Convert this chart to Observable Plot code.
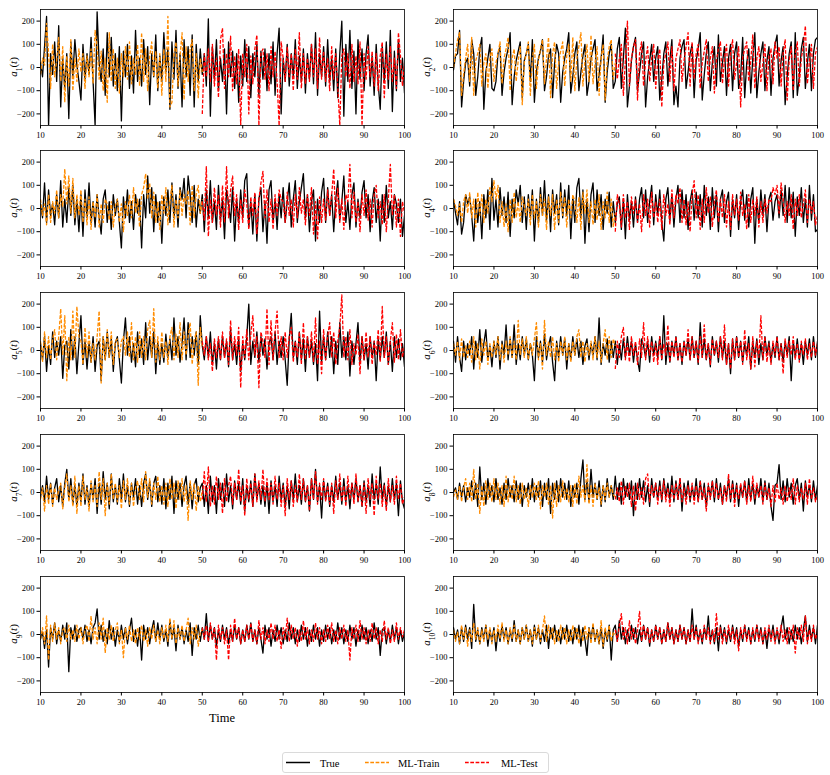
<!DOCTYPE html>
<html><head><meta charset="utf-8">
<script src="https://cdn.jsdelivr.net/npm/d3@7"></script>
<script src="https://cdn.jsdelivr.net/npm/@observablehq/plot@0.6"></script>
<style>
body{margin:0;background:#fff;}
#root{position:relative;width:830px;height:775px;font-family:"Liberation Serif",serif;overflow:hidden;}
.panel{position:absolute;}
#timeLabel{position:absolute;left:172px;width:100px;top:711px;text-align:center;font-size:12.5px;}
</style></head><body><div id="root"></div>
<script>
const step = 0.5;
const trainStart = 10, testStart = 50;
const xTicks = [10,20,30,40,50,60,70,80,90,100];
const yTicks = [-200,-100,0,100,200];
const seriesNames = ["True","ML-Train","ML-Test"];
const seriesColors = ["#000000","#ff8c00","#ff0000"];

// ---- a1 ----
const true1 = [20,-40,90,220,-250,60,-30,110,-60,180, -170,40,-90,60,-220,110,-40,120,10,-60, -140,100,-50,60,-30,130,-60,-250,240,20, -60,80,-120,150,-40,130,-80,60,-100,90, -230,70,-40,100,-90,50,-110,160,-60,40, -80,120,-30,90,-160,60,-40,140,-100,50, -60,150,-20,80,-180,110,-50,160,-90,60, -170,120,-40,90,-120,140,-170,100,-60,80, -30,60,-80,210,-210,90,-50,120,-100,40, -60,80,-200,110,-40,70,-90,60,-150,50, -80,120,-60,90,-130,60,-40,100,-120,70, -50,80,-100,60,-70,110,-120,60,170,-200, 40,-60,100,-80,60,-40,120,-90,50,-60, 80,-110,60,-50,100,-70,150,-120,60,-40, 90,-80,120,-60,40,-100,80,-130,60,200, -210,100,-60,160,-90,70,-200,120,-50,80, -100,60,140,-80,50,-120,100,-70,-180,90, -60,110,-90,160,-190,70,-100,120,-60,40, -110];
const train1 = [-30,40,10,190,60,-90,100,-40,30,130, -60,90,-150,50,-80,120,-100,40,-60,80, -20,60,-90,50,-40,80,-70,160,90,-50, 70,-100,40,-150,150,-60,80,-90,40,-110, 60,-40,90,-50,110,-70,40,-30,100,-80, 150,-60,80,-100,50,110,-40,70,-90,60, -120,80,-60,220,-170,-150,60,110,-80,50, 150,-140,90,-60,80,120,-100,60,-130,40, -20];
const test1 = [-200,60,-40,80,-60,100,-80,40,-130,120, 170,-90,60,-40,135,-100,50,-70,80,-250, 60,-40,100,-200,50,-70,80,140,-250,60, 80,-50,60,-100,90,-40,70,-60,-250,110, 40,-60,90,-40,60,-100,80,-50,150,-90, 60,-70,40,-60,100,-40,80,-90,130,-50, 70,-60,40,-100,90,-50,60,-80,-250,50, 80,-40,60,-90,100,-60,50,-70,110,-250, 60,-50,90,-40,70,-80,60,-100,50,110, -130,60,-50,90,-60,40,-90,150,50,-80, 20];

// ---- a2 ----
const true2 = [-10,50,60,160,-170,-60,20,40,-80,120, 60,-120,-40,80,130,-180,-20,40,100,-90, -100,-60,60,90,-120,-20,40,80,150,-160, -40,30,70,110,-130,30,60,100,-60,120, -150,-20,40,70,120,-100,-40,50,80,-130, 20,100,60,-150,-20,40,80,150,-110,-40, 60,110,-100,-20,50,100,-120,-60,40,80, 120,-100,-30,40,140,-150,-20,60,100,-90, -60,80,130,-90,40,170,-170,-80,30,90, 130,-100,-20,60,110,-170,-40,30,100,-60, 40,90,-140,-50,60,110,-80,30,120,-160, -80,-170,40,90,120,-90,-20,60,100,-130, 30,80,150,-140,-30,60,110,-100,20,90, -80,140,-60,20,90,-120,40,100,-100,60, 110,-90,-40,130,-130,20,80,-110,40,150, -130,-20,60,110,-100,30,90,-120,40,100, 140,-80,30,90,-160,-40,60,110,-130,150, -120,-40,80,130,-90,20,100,-100,60,120, 130];
const train2 = [0,60,120,150,-120,-30,40,100,-60,130, -120,30,60,100,-80,20,60,-90,40,80, -60,20,60,110,-70,40,80,130,-100,40, 80,-60,30,90,-160,20,60,110,-120,40, 100,-90,30,80,120,-70,40,130,-130,60, 110,-90,20,70,110,-80,50,100,-60,130, -100,40,90,150,-80,30,100,-60,140,-70, 20,90,-120,40,100,-140,30,90,120,-50, 20];
const test2 = [60,-50,40,100,-120,30,200,-80,40,90, 120,-140,60,110,-80,30,90,-60,40,100, -90,30,80,-170,20,60,110,-60,90,-100, 40,80,120,-60,30,90,150,-80,110,-50, 60,100,-90,20,70,120,-60,40,90,-110, 30,80,110,-70,40,100,-80,60,120,-50, 20,90,-170,40,80,110,-60,30,140,-90, 40,90,-60,20,100,-100,50,80,-70,110, 40,90,-80,60,120,-140,30,90,-100,60, 110,-80,40,90,180,-70,30,100,-90,60, 90];

// ---- a3 ----
const true3 = [20,-40,110,-60,80,-30,20,-70,60,-40, 120,-80,40,-60,90,-30,100,-70,40,-100, 60,-120,80,-40,110,-60,30,-80,60,-40, -110,40,80,-60,30,-90,60,-30,40,-60, -170,50,-40,80,-60,30,-90,60,-20,40, -170,60,-40,140,-20,90,-100,60,-60,30, -150,50,-30,80,-60,110,-40,60,-80,90, 40,130,-40,140,60,-60,100,-80,40,-20, 60,-100,80,-40,120,-60,30,-90,100,-50, 40,-130,80,20,-60,90,-140,40,-60,80, -40,120,150,-80,30,-110,60,-140,40,90, -100,30,-150,80,120,-60,40,-90,60,-40, 90,-60,30,110,-80,40,120,-60,30,90, 150,-40,60,-100,30,80,-140,40,-60,70, 130,-60,90,-30,60,-100,40,120,-50,30, 140,-60,30,-90,60,110,-80,40,-40,70, 120,-40,60,-100,30,90,-60,40,-140,60, -60,100,-40,30,-90,60,20,-60,40,-120, -30];
const train3 = [40,-30,20,-70,60,-60,30,-20,80,-40, 60,10,170,20,140,-20,130,-40,60,-30, 80,-60,40,-70,50,-90,30,-40,60,-80, 20,-60,40,20,-50,30,-80,10,40,-60, 20,-100,30,-30,60,-40,90,-20,40,-80, 60,90,150,40,110,-40,70,-60,30,-90, 60,-20,90,-70,30,100,-80,40,-40,80, -30,60,20,80,-70,100,-40,60,100,-20, 40];
const test3 = [30,-50,180,-120,40,-60,90,-30,60,-80, 100,-60,180,-40,80,140,-30,60,-90,40, -60,80,20,-90,50,-30,70,-110,40,110, 160,-40,80,-60,40,-90,60,-30,80,40, 30,-60,70,-30,40,-80,60,-40,90,-20, 40,-70,60,-30,90,-110,30,-130,50,-60, 40,-50,80,-30,60,170,-40,90,-60,40, -90,60,30,190,-40,70,-60,30,-100,60, -30,80,-50,40,-80,60,100,-40,30,-70, 60,-100,40,190,-30,60,-80,40,-120,30, -20];

// ---- a4 ----
const true4 = [40,-20,-70,30,-110,-60,60,20,50,-30, -140,40,-60,30,-130,60,-40,80,-90,130, -50,40,-80,90,-30,50,-60,70,-120,40, -40,80,20,100,-60,50,-90,60,-40,80, -140,40,-60,90,-30,120,-50,60,-100,80, -20,60,-70,110,-40,80,-30,100,-130,50, -60,90,130,-40,80,-150,40,-100,60,110, -60,80,-30,60,-90,40,-20,70,-80,30, -60,20,50,-90,40,-130,60,-50,30,-80, 50,-60,40,90,-40,80,-60,30,100,-70, 60,-30,80,-60,-140,40,90,-50,60,-80, 40,100,-60,80,-40,60,-90,30,80,-50, 70,-40,60,-80,100,-30,50,-90,90,-40, 60,-100,40,80,-60,30,70,-120,40,-40, 60,-90,30,80,-50,60,-80,40,90,-150, 40,-60,80,-30,60,-100,40,70,-50,30, 60,-40,80,-30,100,-60,90,-40,70,-120, 50,-30,90,-60,40,-80,100,-50,60,-100, -90];
const train4 = [40,10,-30,20,-60,30,60,-20,70,-40, 40,-80,70,-30,60,-60,40,-20,90,30, 120,40,100,-60,30,-80,20,-100,40,-60, 70,-40,30,-60,50,10,-30,40,-70,60, -40,30,-80,60,-30,40,-90,50,-30,60, -90,40,-60,70,-30,50,-80,40,-40,60, 30,-60,50,-90,70,-20,80,-60,30,-70, 40,-50,60,-90,30,-40,70,-60,40,-80, -20];
const test4 = [-100,60,20,-80,60,-40,30,-90,50,-20, 40,-60,20,-100,60,-30,40,-80,70,-40, 30,-60,40,-90,60,-30,20,-70,80,-40, 60,20,90,-60,40,-70,30,-100,60,120, -40,60,-90,40,-60,90,-20,50,-80,30, 80,-60,40,-40,60,-80,30,-90,60,-30, 40,-50,70,-30,20,-90,60,-60,40,-30, 50,-80,30,-60,40,-20,40,30,90,60, 100,-20,110,40,-60,30,-30,60,-90,40, -30,60,-40,20,80,-60,40,-20,30,-70, -30];

// ---- a5 ----
const true5 = [30,-40,60,-90,20,-60,80,-30,40,-20, 60,-120,20,40,-80,90,-40,60,-100,30, 150,-60,40,-80,30,-50,60,-90,20,40, -130,60,-40,80,-30,50,-90,30,60,-40, -140,40,140,-20,60,-50,30,-70,80,-30, 50,-60,120,-40,60,-30,80,-100,40,-60, 30,-50,70,-30,50,-40,140,-20,60,-50, 30,140,-40,120,-30,60,-20,80,-60,150, 20,-40,60,-30,80,-60,30,-80,50,-40, 60,-30,40,-70,90,-40,30,-60,50,-90, 30,-40,60,200,-60,40,-30,80,-50,60, -20,50,-80,30,60,-40,80,-60,40,-30, 60,-40,-150,50,160,-30,40,-60,80,-40, 50,-90,60,-30,40,-60,30,-130,170,-50, 60,-40,80,-30,60,-100,40,-60,120,-30, 60,-40,80,-110,40,-60,30,120,-50,60, -40,30,-80,60,-30,40,-130,50,-40,60, -30,80,-60,40,-90,60,-30,50,-40,30, -70];
const train5 = [40,-50,80,-30,60,-40,50,90,-40,60, 180,-20,150,-130,60,-40,170,-30,190,60, 40,-60,100,-30,80,-50,30,-40,60,170, -140,60,-40,90,-30,80,-60,40,50,-30, 40,60,-20,80,-30,120,-40,60,-50,80, -30,60,-40,90,130,-30,180,-50,60,-40, 80,-30,40,-60,60,100,-40,70,-30,120, -40,80,-20,60,120,-60,40,80,-150,100, 20];
const test5 = [40,-20,60,-40,30,-90,50,-30,60,-40, 80,-30,50,-60,130,-40,60,-20,100,-160, 60,-30,90,-40,70,150,-20,60,-160,80, 40,-30,180,-60,130,-40,80,170,-30,60, -40,80,-30,60,100,-50,40,-30,80,-60, 120,-40,60,-30,80,-50,140,-60,40,-100, 90,-40,60,120,-30,80,-60,40,100,240, -30,60,-40,90,-60,30,-20,70,-100,60, -40,80,-30,60,-60,40,-20,90,-50,190, -30,60,-60,40,120,-50,70,-40,90,-30, 20];

// ---- a6 ----
const true6 = [40,-50,60,-30,-90,40,-40,30,-20,60, -80,40,-30,90,-50,30,90,-40,20,-70, 40,-30,60,-80,40,-20,110,-40,50,-30, 110,-60,30,-40,60,-20,50,-40,30,-20, -130,60,-30,40,-50,70,-40,20,60,-50, -130,40,-30,60,-20,50,-80,30,-40,60, -20,50,-30,40,-60,20,50,-40,30,-20, 60,-40,140,-60,30,-20,50,-50,40,-30, 40,-60,30,-40,50,-30,60,-20,40,-50, 30,-40,-90,50,20,-30,40,-50,60,-20, 40,-30,60,-40,150,-60,30,-50,40,-20, 60,-40,30,-60,40,-20,50,-40,60,-30, 40,-60,120,-30,50,-40,30,-70,60,-20, 40,-50,60,-30,40,-60,30,-100,50,-40, 60,-30,40,-50,30,-20,60,-80,40,-30, 50,-60,30,-40,60,-20,40,-50,30,-30, 60,-40,30,-50,40,-20,60,-130,40,-30, 50,-40,30,-60,40,-20,50,-40,60,-30, 40];
const train6 = [30,-20,40,-40,50,-30,20,-30,40,-50, 60,-40,30,-80,50,-20,40,-60,30,-30, 40,-20,60,-40,30,-50,40,-20,60,-30, 40,-40,130,-20,50,-30,60,-40,30,-20, 50,120,-40,30,-80,130,-20,40,-30,60, -40,30,-50,40,-20,60,-40,30,-50,40, -20,60,90,-30,40,-50,30,-20,40,-40, 60,-30,40,-50,30,90,-40,60,-30,50, 20];
const test6 = [-80,40,-30,60,100,-40,30,-50,60,-20, 40,-60,50,-30,120,-40,60,-20,40,-50, 30,-60,60,-40,30,-20,110,-50,40,-30, 60,-40,30,-50,40,-20,90,-40,60,-30, 40,-50,60,-30,110,-40,30,-60,50,-20, 40,-30,60,-40,110,-60,30,-80,50,-40, 60,-30,40,-60,90,-40,30,-80,60,-70, 40,-30,150,-40,60,-50,30,-60,40,-20, 60,-40,30,-100,50,-30,40,-20,60,-40, 30,-50,40,-20,50,-40,30,-30,40,-20, 30];

// ---- a7 ----
const true7 = [-20,30,-40,70,-30,40,-50,20,60,-40, 30,-60,40,100,-30,60,-50,30,-60,40, -40,80,-50,30,-60,40,-30,60,-90,40, -50,90,-30,40,-70,80,-40,30,-50,60, -30,80,-40,30,-60,40,-20,60,-50,30, -60,40,80,-30,50,-60,40,70,-40,30, -50,60,-70,40,-30,70,-90,50,-30,40, -60,30,70,-50,40,-70,30,60,-40,20, 40,-60,30,-90,70,-40,30,-90,60,-30, 40,-60,80,-40,30,-70,50,-30,40,-50, 60,-80,30,-40,50,-60,80,-30,40,-50, 30,-60,40,-90,50,-40,30,-60,70,-30, 40,-60,30,-70,50,-30,80,-40,30,-50, 60,-40,30,-80,60,-30,100,-40,30,-110, 50,-30,40,-60,30,-40,70,-30,40,-50, 60,-40,30,-70,40,-30,60,-40,30,-60, 50,-40,30,-60,80,-30,40,-50,110,-30, 40,-60,30,-40,60,-30,40,-100,50,-40, -70];
const train7 = [-30,20,-80,30,-50,40,-60,20,-30,10, 40,-70,20,80,-40,30,-60,70,-90,30, -60,70,-30,20,-80,50,-40,30,-60,90, -30,60,-100,40,-50,80,-30,40,-40,30, -70,50,-30,60,-50,40,-60,20,50,-30, 60,-40,90,-20,60,-50,40,-30,70,-40, 30,-50,40,-60,60,-30,40,-70,50,-30, 60,-40,30,-120,50,-30,40,-80,30,-40, 10];
const test7 = [-30,90,-40,110,-60,30,-50,70,-30,40, -90,60,-40,30,70,-50,40,-30,100,-40, 30,-100,60,-30,40,-60,80,-40,50,-30, 100,-40,60,-30,40,-50,70,-30,40,-60, 30,-100,60,-30,50,-60,30,-40,80,-30, 60,-40,30,-80,60,-30,90,-50,40,-30, 60,-40,30,-50,40,-90,50,-30,80,-40, 30,-60,70,-30,40,-50,80,-40,30,-60, 40,-90,60,-30,40,-100,70,-30,40,-60, 30,-80,60,-40,30,-50,70,-30,40,-50, -20];

// ---- a8 ----
const true8 = [0,20,-30,40,-20,30,-40,20,-20,50, -30,40,-60,110,-30,40,-50,60,-20,30, -40,60,-30,20,-50,40,-30,60,-20,30, -40,50,-30,40,-60,30,-20,40,-30,60, -40,30,-20,50,-60,40,-30,60,-90,40, -30,50,-40,60,-20,40,-30,50,-60,30, -20,40,-50,60,140,-30,50,-40,100,-20, 40,-30,50,-60,30,-40,60,-20,30,-30, 70,-30,40,-50,60,-20,40,-30,50,-100, 40,-30,60,-20,50,-40,30,-60,60,-20, 40,-30,50,-40,60,-20,40,-30,70,-40, 50,-30,60,-80,40,-20,50,-40,30,-30, 60,-40,50,-30,40,-60,30,-20,50,-40, 60,-30,40,-50,30,-20,60,-40,50,-30, 40,-60,30,-20,50,-40,60,-30,40,-50, 30,-20,60,-40,50,-30,40,-60,-120,30, 40,120,-30,50,-40,60,-20,40,-50,30, 60,-30,40,-80,50,-20,30,-40,50,-30, 30];
const train8 = [-20,10,-30,30,-40,20,60,-30,40,-40, 100,-30,40,-90,30,-60,50,-30,40,-40, 60,-30,40,-50,30,-60,70,-40,30,-30, 70,-40,30,-50,40,-30,20,-60,30,-20, 40,-30,50,-70,30,-20,40,-50,30,-110, 40,-60,30,-40,50,-30,20,-40,30,-60, 40,-50,70,-20,30,-40,120,-50,30,-60, 40,-30,20,-50,30,-30,40,-20,30,-10, -20];
const test8 = [-30,20,-40,50,-50,30,-20,40,-60,30, -80,40,-30,20,-50,60,80,-40,30,-20, 40,-50,30,-30,50,-40,20,-60,30,-30, 40,-30,60,-40,20,-50,30,-30,40,-50, 30,-40,50,-30,20,-80,40,-30,50,-20, 40,-30,20,-50,30,-40,80,-30,40,-60, 30,-30,40,-20,50,-50,30,-40,70,-30, 40,-20,30,-50,40,-30,20,-60,30,-40, 40,-30,20,-50,30,-40,20,-30,60,-50, 30,-40,20,-30,40,-50,60,-30,20,-40, -10];

// ---- a9 ----
const true9 = [-20,10,-60,20,-140,30,-20,50,-40,20, -30,40,-20,50,-160,30,-20,40,-30,20, 30,-20,40,-30,20,-40,30,50,110,-20, 40,-30,20,-40,60,-20,30,-50,20,-30, 40,-20,30,-40,20,70,-30,20,-50,30, -110,40,-20,30,-40,20,60,-30,50,-20, 40,-30,20,-50,60,-20,30,-70,40,-20, 30,-40,20,-30,50,-90,30,-20,40,-30, 30,-20,90,-30,40,-20,30,-50,20,-30, 40,-20,30,-40,20,-30,40,-20,30,-40, 20,-30,40,-20,50,-30,20,-40,30,-20, -80,40,-20,30,-50,20,-30,40,-20,30, -40,20,-30,50,-20,30,-40,20,-30,40, -20,30,-50,20,-30,40,-20,30,-50,20, -30,40,-20,30,-40,20,-30,50,-20,30, -40,20,-30,40,-20,30,-50,20,-30,40, -20,30,-40,20,-30,50,-20,30,-90,20, 30,-40,20,-30,40,-20,30,-40,20,-30, 10];
const train9 = [-20,30,-40,80,-110,40,-30,50,-20,30, -40,20,30,-30,40,-20,20,-30,40,-20, 30,-40,20,40,-30,80,-20,30,-40,50, -20,70,-80,30,-20,40,-30,20,50,-40, 20,-100,30,-20,40,-30,20,-40,30,-20, 40,-30,20,-50,30,-20,40,-30,20,-40, 30,-20,40,-30,70,-20,60,-40,30,-20, 40,-30,20,70,-40,30,-20,40,-50,10, 20];
const test9 = [30,-20,40,-30,50,-20,30,-110,40,-20, 30,-40,20,-110,40,-30,70,-20,30,-40, 20,-30,40,-20,50,-30,20,-40,60,-20, 30,-40,20,-30,50,-20,40,-30,20,-60, 30,-20,70,-30,40,-20,30,-50,20,-30, 60,-20,30,-40,20,-30,50,-20,30,-40, 20,-30,40,-20,50,-30,20,-40,30,-20, 40,-30,20,-110,30,-20,40,-30,60,-20, 30,-40,20,-30,50,-20,30,-40,20,-30, 60,-20,30,-40,20,-30,50,-20,30,-10, 20];

// ---- a10 ----
const true10 = [30,-20,20,-40,30,-30,40,-20,30,-60, 130,-30,20,-40,30,-20,40,-50,20,-30, 30,-70,20,-30,40,-20,30,-40,20,-30, 60,-30,20,-40,30,-20,40,-30,20,-50, 40,-20,30,-40,20,-30,40,-60,30,-20, 40,-30,20,-40,30,-20,40,-30,20,-40, 30,-20,40,-50,30,-20,-90,30,-20,40, -30,20,-40,30,-60,20,-30,40,-110,20, 40,-30,60,-20,30,-40,20,-30,40,-20, 30,-40,20,-30,40,-20,30,-50,20,-30, 40,-20,30,-40,20,-30,50,-20,30,-40, 20,-30,40,-20,30,-40,20,-30,110,-20, 40,-30,20,-40,30,-20,80,-30,20,-40, 30,-70,40,-20,30,-40,20,-30,40,-20, 30,-50,20,-30,40,-20,30,-40,20,-30, 40,-20,30,-40,20,-60,30,-20,40,-30, 20,-40,30,80,-20,30,-40,20,-30,40, -20,30,-40,20,80,-30,40,-20,30,-40, 40];
const train10 = [20,-30,10,-40,40,-20,30,-50,20,-30, 50,-20,30,-40,20,-30,40,-20,30,-40, 20,-30,40,-20,50,-30,20,-40,30,-20, 40,-30,20,-40,30,-20,40,-30,20,-40, 30,-20,40,-30,20,80,-30,40,-20,30, -40,20,-30,40,-20,30,-40,20,-30,40, -20,30,-40,20,-30,40,-20,30,-40,50, -30,20,-40,60,-50,30,-20,40,-30,10, 0];
const test10 = [20,-30,40,90,-20,30,-40,60,-20,30, -40,20,100,-30,40,-20,30,-40,20,-30, 40,-20,30,-40,20,-30,50,-20,30,-40, 20,-30,40,-20,30,-40,20,-30,40,-20, 30,-40,20,-30,40,-20,30,-40,20,-30, 90,-20,30,-40,20,-30,40,-20,30,-40, 20,-70,30,-20,40,-30,20,-40,30,-20, 40,-30,20,-40,30,-20,40,-30,20,-40, 30,-20,40,-30,20,-40,30,-20,40,-80, 30,-20,40,-30,80,-40,20,-30,40,-20, 10];

const trueList = [true1,true2,true3,true4,true5,true6,true7,true8,true9,true10];
const trainList = [train1,train2,train3,train4,train5,train6,train7,train8,train9,train10];
const testList = [test1,test2,test3,test4,test5,test6,test7,test8,test9,test10];

const root = document.getElementById("root");
const FONT = "'Liberation Serif', 'DejaVu Serif', serif";
const frameTops = [9, 150, 292, 434, 576];
const colLefts = [0, 413];
const mTop = 4, mBottom = 22, mLeft = 40, mRight = 6, innerH = 116;
const W = 410, H = mTop + innerH + mBottom;

const toRows = (arr, t0) => arr.map((v, i) => ({t: t0 + i * step, v}));

for (let k = 0; k < 10; k++) {
  const row = Math.floor(k / 2), col = k % 2;
  const plot = Plot.plot({
    width: W, height: H,
    marginTop: mTop, marginBottom: mBottom, marginLeft: mLeft, marginRight: mRight,
    style: {fontFamily: FONT, fontSize: "8.5px", background: "transparent", color: "#000", overflow: "visible"},
    x: {domain: [10, 100], ticks: xTicks, tickSize: 3.5, tickPadding: 2.5, label: null},
    y: {domain: [-250, 250], ticks: yTicks, tickSize: 3.5, tickPadding: 2.5, label: null},
    marks: [
      Plot.line(toRows(trueList[k], trainStart), {x: "t", y: "v", stroke: seriesColors[0], strokeWidth: 1.3, clip: true}),
      Plot.line(toRows(trainList[k], trainStart), {x: "t", y: "v", stroke: seriesColors[1], strokeWidth: 1.3, strokeDasharray: "3.7,1.6", strokeLinecap: "butt", clip: true}),
      Plot.line(toRows(testList[k], testStart), {x: "t", y: "v", stroke: seriesColors[2], strokeWidth: 1.3, strokeDasharray: "3.7,1.6", strokeLinecap: "butt", clip: true}),
      Plot.frame({stroke: "#000", strokeWidth: 0.8})
    ]
  });
  // y label a_k(t)
  const svg = d3.select(plot);
  const lab = svg.append("text")
    .attr("transform", `translate(16.5,${mTop + innerH / 2}) rotate(-90)`)
    .attr("text-anchor", "middle")
    .style("font-family", FONT).style("font-size", "11px").attr("fill", "#000");
  lab.append("tspan").style("font-style", "italic").text("a");
  lab.append("tspan").attr("baseline-shift", "sub").style("font-size", "7.5px").text(String(k + 1));
  lab.append("tspan").text("(");
  lab.append("tspan").style("font-style", "italic").text("t");
  lab.append("tspan").text(")");
  plot.classList.add("panel");
  plot.style.left = colLefts[col] + "px";
  plot.style.top = (frameTops[row] - mTop) + "px";
  plot.style.position = "absolute";
  root.appendChild(plot);
}

// x-axis title
const tl = document.createElement("div");
tl.id = "timeLabel";
tl.textContent = "Time";
root.appendChild(tl);

// legend
const leg = d3.select(root).append("svg")
  .attr("width", 268).attr("height", 22)
  .style("position", "absolute").style("left", "282px").style("top", "752px");
leg.append("rect").attr("x", 0.5).attr("y", 0.5).attr("width", 266).attr("height", 20).attr("rx", 2.5)
  .attr("fill", "#fff").attr("stroke", "#d0d0d0").attr("stroke-width", 0.8);
const items = [
  {sx: 4, tx: 38, dash: null},
  {sx: 83, tx: 116, dash: "3.7,1.6"},
  {sx: 183, tx: 219, dash: "3.7,1.6"}
];
items.forEach((it, i) => {
  leg.append("line").attr("x1", it.sx).attr("x2", it.sx + 24).attr("y1", 10.5).attr("y2", 10.5)
    .attr("stroke", seriesColors[i]).attr("stroke-width", 1.5)
    .attr("stroke-dasharray", it.dash);
  leg.append("text").attr("x", it.tx).attr("y", 14.5).text(seriesNames[i])
    .style("font-family", FONT).style("font-size", "10.5px").attr("fill", "#000");
});
</script></body></html>
